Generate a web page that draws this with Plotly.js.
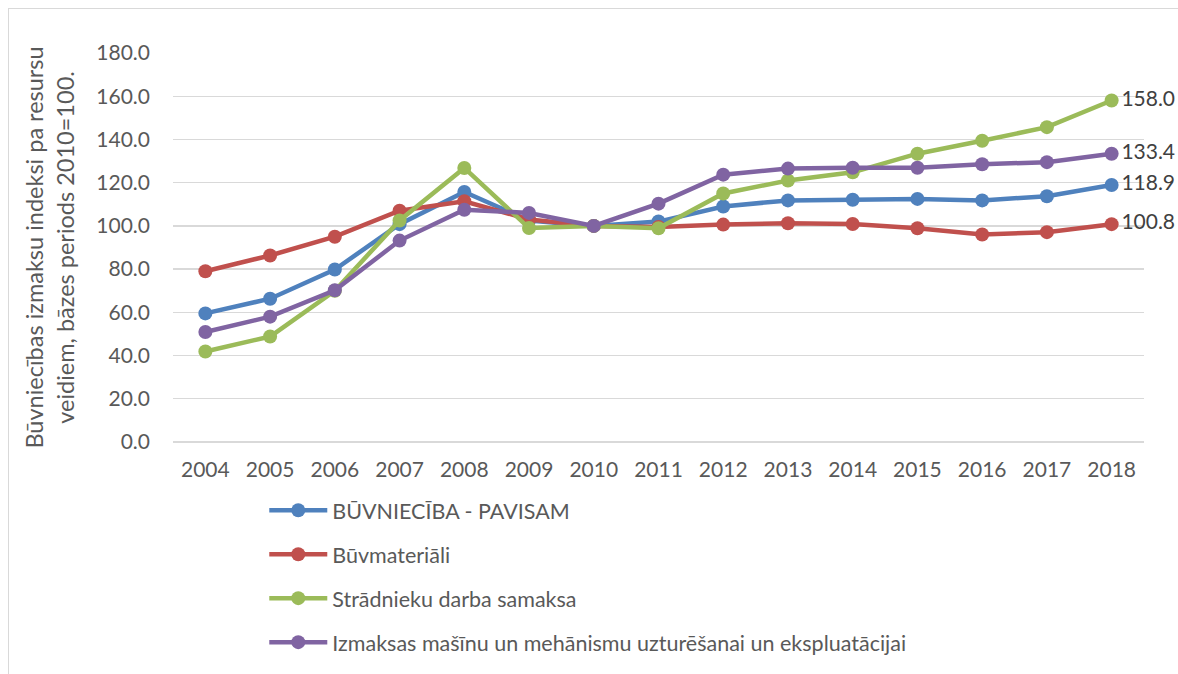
<!DOCTYPE html>
<html>
<head>
<meta charset="utf-8">
<script src="https://cdn.plot.ly/plotly-3.0.1.min.js"></script>
<style>
  html, body { margin: 0; padding: 0; background: #fff; overflow: hidden; }
  #frame { position: absolute; left: 8px; top: 8px; width: 1200px; height: 700px; border: 1px solid #d9d9d9; }
  #chart { position: absolute; left: 0; top: 0; width: 1178px; height: 674px; }
</style>
</head>
<body>
<div id="frame"></div>
<div id="chart"></div>
<script>
const years = ["2004","2005","2006","2007","2008","2009","2010","2011","2012","2013","2014","2015","2016","2017","2018"];
const seriesNames = [
  "BŪVNIECĪBA - PAVISAM",
  "Būvmateriāli",
  "Strādnieku darba samaksa",
  "Izmaksas mašīnu un mehānismu uzturēšanai un ekspluatācijai"
];
const buvniecibaPavisam = [59.5, 66.3, 79.8, 100.8, 115.7, 102.5, 100.0, 102.0, 109.0, 111.8, 112.1, 112.5, 111.8, 113.7, 118.9];
const buvmateriali      = [79.0, 86.3, 95.0, 107.0, 111.4, 103.0, 100.0, 99.5, 100.6, 101.2, 100.9, 98.9, 96.0, 97.1, 100.8];
const stradnieku        = [41.9, 48.8, 70.0, 102.5, 126.8, 99.0, 100.0, 98.9, 115.0, 121.0, 124.8, 133.4, 139.4, 145.7, 158.0];
const izmaksasMasinu    = [50.9, 58.0, 70.2, 93.2, 107.5, 106.0, 100.0, 110.3, 123.7, 126.5, 126.9, 126.9, 128.5, 129.5, 133.4];
const colors = ["#4F81BD", "#C0504D", "#9BBB59", "#8064A2"];
const allSeries = [buvniecibaPavisam, buvmateriali, stradnieku, izmaksasMasinu];

const FONT = "Lato, 'Liberation Sans', sans-serif";
const TXT = "#595959";

const traces = allSeries.map((vals, i) => ({
  type: "scatter",
  mode: "lines+markers+text",
  name: seriesNames[i],
  legendgroup: "g" + i,
  x: years,
  y: vals,
  text: vals.map((v, j) => j === vals.length - 1 ? v.toFixed(1) : ""),
  textposition: "middle right",
  textfont: { family: FONT, size: 21, color: "#404040" },
  cliponaxis: false,
  line: { color: colors[i], width: 4.5 },
  marker: { color: colors[i], size: 14 },
  hoverinfo: "x+y+name"
}));

const layout = {
  width: 1178, height: 674,
  paper_bgcolor: "rgba(0,0,0,0)",
  plot_bgcolor: "rgba(0,0,0,0)",
  margin: { l: 173, r: 34, t: 53, b: 231 },
  font: { family: FONT, size: 20, color: TXT },
  showlegend: true,
  legend: {
    orientation: "v",
    x: 0.094, xanchor: "left",
    y: -0.12, yanchor: "top",
    font: { family: FONT, size: 21.5, color: TXT },
    itemwidth: 58,
    tracegroupgap: 13,
    bgcolor: "rgba(0,0,0,0)"
  },
  xaxis: {
    type: "category",
    range: [-0.5, 14.5],
    showgrid: false,
    showline: false,
    zeroline: false,
    ticks: "",
    ticklabelstandoff: 13,
    tickfont: { family: FONT, size: 21, color: TXT },
    fixedrange: true
  },
  yaxis: {
    range: [0, 180],
    dtick: 20,
    tickformat: ".1f",
    showgrid: true,
    gridcolor: "#d9d9d9",
    gridwidth: 1.3,
    zeroline: true,
    zerolinecolor: "#d9d9d9",
    zerolinewidth: 1.3,
    showline: false,
    ticks: "",
    ticklabelstandoff: 22,
    tickfont: { family: FONT, size: 21, color: TXT },
    title: {
      text: "Būvniecības izmaksu indeksi pa resursu<br>veidiem, bāzes periods 2010=100.",
      font: { family: FONT, size: 23.5, color: TXT },
      standoff: 15
    },
    fixedrange: true
  }
};

Plotly.newPlot("chart", traces, layout, { displayModeBar: false, staticPlot: true });
</script>
</body>
</html>
